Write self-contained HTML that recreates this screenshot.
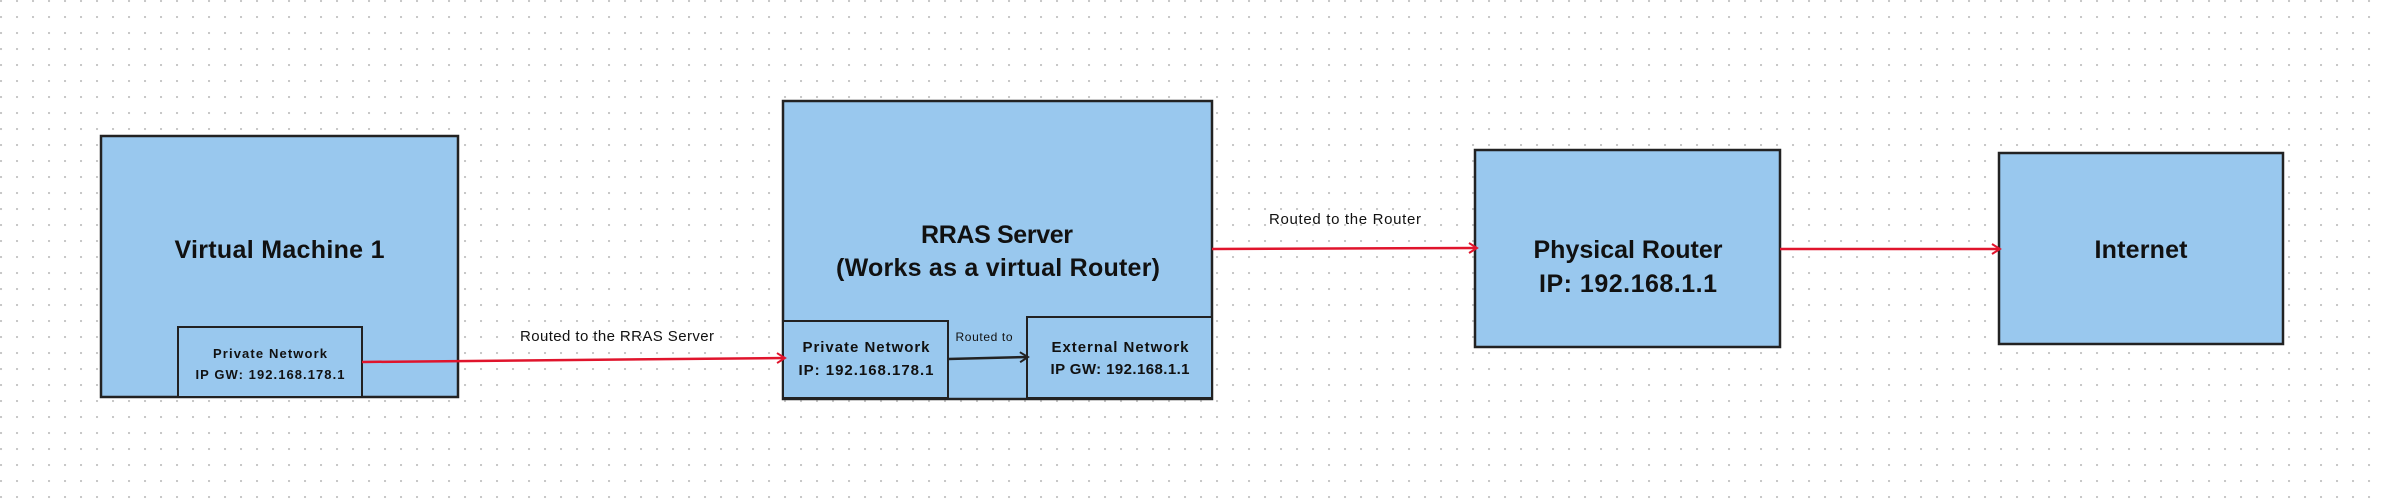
<!DOCTYPE html>
<html><head><meta charset="utf-8">
<style>
html,body{margin:0;padding:0;background:#fff;}
body{width:2383px;height:501px;overflow:hidden;
background-image:radial-gradient(circle at 1px 1px,#c8c8c8 1.1px,transparent 1.3px);
background-size:16px 16px;background-position:0 0;}
svg{position:absolute;left:0;top:0;}
text{font-family:"Liberation Sans",sans-serif;fill:#111;}
.b{font-weight:bold;}
</style></head><body>
<svg width="2383" height="501" viewBox="0 0 2383 501">
<defs>
<marker id="ar" markerWidth="12" markerHeight="12" refX="10" refY="6" orient="auto" markerUnits="userSpaceOnUse">
<path d="M2,1 L10,6 L2,11" fill="none" stroke="#e0142c" stroke-width="2"/></marker>
<marker id="ab" markerWidth="12" markerHeight="12" refX="10" refY="6" orient="auto" markerUnits="userSpaceOnUse">
<path d="M2,1 L10,6 L2,11" fill="none" stroke="#222" stroke-width="2"/></marker>
</defs>
<g fill="#99c8ee" stroke="#222" stroke-width="2.5">
<rect x="101" y="136" width="357" height="261"/>
<rect x="178" y="327" width="184" height="70" stroke-width="2"/>
<rect x="783" y="101" width="429" height="298"/>
<rect x="783" y="321" width="165" height="77" stroke-width="2"/>
<rect x="1027" y="317" width="185" height="81" stroke-width="2"/>
<rect x="1475" y="150" width="305" height="197"/>
<rect x="1999" y="153" width="284" height="191"/>
</g>
<g stroke="#e0142c" stroke-width="2.5" fill="none">
<line x1="362" y1="362" x2="785" y2="358" marker-end="url(#ar)"/>
<line x1="1212" y1="249" x2="1477" y2="248" marker-end="url(#ar)"/>
<line x1="1780" y1="249" x2="2000" y2="249" marker-end="url(#ar)"/>
</g>
<line x1="948" y1="359" x2="1028" y2="357" stroke="#222" stroke-width="2.5" marker-end="url(#ab)"/>

<text class="b" x="279.5" y="258" font-size="25" text-anchor="middle" textLength="210">Virtual Machine 1</text>
<text class="b" x="270" y="358" font-size="13" text-anchor="middle" textLength="114">Private Network</text>
<text class="b" x="270" y="379" font-size="13" text-anchor="middle" textLength="149">IP GW: 192.168.178.1</text>
<text x="617" y="341" font-size="15" text-anchor="middle" textLength="194">Routed to the RRAS Server</text>

<text class="b" x="997" y="243" font-size="25" text-anchor="middle" textLength="152">RRAS Server</text>
<text class="b" x="998" y="276" font-size="25" text-anchor="middle" textLength="324">(Works as a  virtual Router)</text>
<text class="b" x="866" y="352" font-size="15" text-anchor="middle" textLength="127">Private Network</text>
<text class="b" x="866" y="375" font-size="15" text-anchor="middle" textLength="135">IP: 192.168.178.1</text>
<text x="984" y="341" font-size="12" text-anchor="middle" textLength="57">Routed to</text>
<text class="b" x="1120" y="352" font-size="15" text-anchor="middle" textLength="137">External Network</text>
<text class="b" x="1120" y="374" font-size="15" text-anchor="middle" textLength="139">IP GW: 192.168.1.1</text>
<text x="1345" y="224" font-size="15" text-anchor="middle" textLength="152">Routed to the Router</text>

<text class="b" x="1628" y="258" font-size="25" text-anchor="middle" textLength="189">Physical Router</text>
<text class="b" x="1628" y="292" font-size="25" text-anchor="middle" textLength="178">IP: 192.168.1.1</text>
<text class="b" x="2141" y="258" font-size="25" text-anchor="middle" textLength="93">Internet</text>
</svg>
</body></html>
